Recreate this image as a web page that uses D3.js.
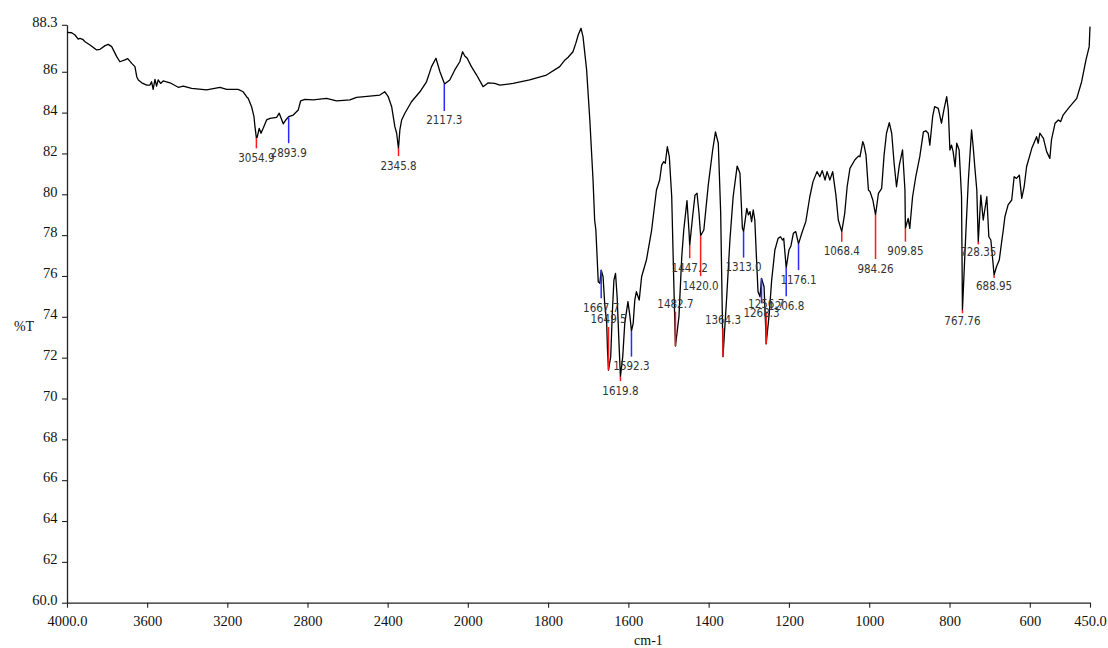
<!DOCTYPE html>
<html><head><meta charset="utf-8">
<script src="https://cdn.jsdelivr.net/npm/d3@7"></script>
<style>body{margin:0;background:#fff;overflow:hidden}</style>
</head><body>
<svg id="chart" width="1108" height="648"></svg>
<script>
// ---- data ----
const specWn = [4000,3977,3960,3944,3935,3922,3910,3885,3852,3835,3810,3794,3777,3752,3736,3711,3697,3677,3661,3652,3644,3627,3602,3586,3578,3570,3561,3553,3545,3533,3520,3486,3445,3420,3378,3303,3237,3203,3146,3121,3104,3096,3079,3067,3062,3055,3051,3041,3032,3021,3004,2987,2954,2941,2921,2908,2894,2871,2846,2834,2813,2771,2705,2655,2588,2555,2489,2439,2414,2397,2380,2364,2355,2346,2339,2330,2314,2281,2239,2206,2181,2159,2139,2116,2090,2065,2040,2026,2015,2003,1991,1978,1962,1949,1933,1920,1887,1846,1804,1771,1758,1750,1738,1731,1725,1718,1713,1704,1696,1688,1684,1681,1675,1671,1667.7,1663,1659,1654,1652,1649.5,1644,1640,1636,1632,1628,1623,1619.8,1614,1609,1601,1596,1592.3,1588,1584,1580,1573,1567,1555,1542,1530,1522,1517,1512,1508,1503,1498,1492,1487,1482.7,1474,1467,1462,1454,1449,1447.2,1440,1434,1429,1424,1420,1412,1401,1390,1383,1376,1370,1364.3,1355,1347,1339,1329,1322,1316,1313,1305,1301,1297,1293,1289,1285,1281,1277,1272,1268.3,1262,1258,1256.7,1249,1243,1235,1227,1221,1216,1213,1206.8,1200,1195,1189,1183,1176.1,1168,1158,1148,1140,1130,1123,1117,1110,1105,1098,1091,1083,1077,1068.4,1061,1055,1048,1036,1027,1023,1016,1013,1008,1002,998,991,984.26,977,969,963,957,950,944,938,932,925,917,911,909.85,903,899,892,884,874,865,859,853,849,842,837,828,820,814,807,803,799,795,791,786,782,776,770,767.76,759,753,745,741,737,732,728.35,722,716,707,702,697,693,688.95,683,676,670,666,662,654,645,639,633,626,620,614,608,595,583,579,575,566,558,550,546,537,529,523,517,504,483,471,460,452,450];
const specT = [87.93,87.91,87.80,87.60,87.64,87.59,87.47,87.31,87.07,87.10,87.28,87.34,87.23,86.74,86.49,86.58,86.64,86.41,86.25,85.76,85.60,85.46,85.35,85.35,85.51,85.14,85.63,85.30,85.60,85.43,85.55,85.46,85.24,85.30,85.19,85.11,85.24,85.14,85.14,85.02,84.78,84.70,84.29,83.80,83.31,82.76,82.79,83.23,82.99,83.23,83.64,83.72,83.77,83.97,83.45,83.64,83.80,83.88,84.13,84.58,84.65,84.62,84.70,84.57,84.62,84.75,84.81,84.86,85.02,84.78,84.29,83.31,82.99,82.25,83.15,83.64,83.97,84.53,85.02,85.51,86.25,86.66,86.00,85.40,85.60,86.09,86.49,86.98,86.77,86.66,86.25,85.84,85.27,85.46,85.43,85.35,85.43,85.60,85.84,86.25,86.58,86.71,86.98,87.39,87.80,88.13,87.72,86.09,83.64,80.70,78.74,78.25,75.72,75.64,76.29,75.96,74.66,73.68,72.37,71.39,72.05,74.17,75.80,76.13,74.98,72.54,71.07,72.05,73.68,74.74,74.01,73.30,73.68,74.82,75.23,74.82,75.96,76.78,78.25,80.21,80.70,81.43,81.60,81.52,82.33,81.84,79.88,75.80,72.57,74.01,76.94,78.25,79.69,78.20,77.50,78.90,79.96,80.05,79.07,77.97,78.25,80.45,82.17,83.06,82.50,79.07,72.05,74.98,77.76,79.88,81.38,81.03,78.35,78.17,79.31,78.99,79.15,78.66,79.23,78.74,76.94,75.23,74.98,75.88,75.47,73.52,72.67,74.17,75.80,77.27,77.84,77.92,77.76,77.84,76.40,77.27,77.47,78.09,78.17,77.57,78.09,78.66,79.88,80.62,81.11,80.86,81.16,80.70,81.11,80.70,81.11,79.96,78.74,78.17,79.07,80.37,81.27,81.68,81.87,81.84,82.58,82.41,81.92,80.21,80.13,79.72,78.99,80.05,80.29,81.92,82.99,83.51,82.99,81.52,80.37,81.43,82.17,80.21,78.33,78.82,78.33,79.88,80.86,81.84,83.06,83.11,82.99,82.41,83.80,84.29,84.21,83.48,84.13,84.78,84.13,82.17,82.41,82.09,81.35,82.50,82.17,79.88,74.33,78.25,80.70,83.15,82.33,81.35,80.21,77.68,79.96,78.74,79.88,77.92,77.76,76.94,76.04,76.45,76.78,77.68,78.25,78.90,79.48,79.72,80.86,80.78,80.94,79.80,80.37,81.35,82.25,82.82,82.50,82.99,82.74,82.09,81.76,82.66,83.48,83.64,83.56,83.88,84.21,84.70,85.50,86.58,87.23,88.21];

const xTickValues = [4000,3600,3200,2800,2400,2000,1800,1600,1400,1200,1000,800,600,450];
const xTickLabels = ["4000.0","3600","3200","2800","2400","2000","1800","1600","1400","1200","1000","800","600","450.0"];
const yTickValues = [60,62,64,66,68,70,72,74,76,78,80,82,84,86,88.3];
const yTickLabels = ["60.0","62","64","66","68","70","72","74","76","78","80","82","84","86","88.3"];
const xTitle = "cm-1";
const yTitle = "%T";

const peakLabels = ["3054.9","2893.9","2345.8","2117.3","1667.7","1649.5","1619.8","1592.3","1482.7","1447.2","1420.0","1364.3","1313.0","1268.3","1256.7","1206.8","1176.1","1068.4","984.26","909.85","767.76","728.35","688.95"];
const peakWn = [3054.9,2893.9,2345.8,2117.3,1667.7,1649.5,1619.8,1592.3,1482.7,1447.2,1420.0,1364.3,1313.0,1268.3,1256.7,1206.8,1176.1,1068.4,984.26,909.85,767.76,728.35,688.95];
const peakT = [82.76,83.77,82.25,85.40,76.29,71.39,71.07,73.30,72.57,77.50,77.97,72.05,78.17,75.88,72.67,76.40,77.57,78.17,78.99,78.33,74.33,77.68,76.04];
const peakEndT = [82.25,82.50,81.87,84.08,74.91,73.50,70.85,72.05,74.25,76.87,75.99,73.44,76.90,74.66,74.25,75.01,76.29,77.68,76.83,77.68,74.25,77.62,75.97];
const peakKind = ["min","shoulder","min","shoulder","shoulder","min","min","shoulder","min","min","min","min","shoulder","shoulder","min","shoulder","shoulder","min","min","min","min","min","min"];

// ---- drawing ----
const svg = d3.select("#chart");
const x = d3.scaleLinear().domain([4000,2000,450]).range([67,467.8,1090]);
const y = d3.scaleLinear().domain([60,88.3]).range([602.7,24.8]);

const serif = "'Liberation Serif','Times New Roman',serif";

// x axis
const xAxis = d3.axisBottom(x).tickValues(xTickValues)
  .tickFormat((d,i)=>xTickLabels[i]).tickSize(5).tickSizeOuter(0).tickPadding(8.5);
const gx = svg.append("g").attr("transform",`translate(0,${y(60)})`).call(xAxis);
// y axis
const yAxis = d3.axisLeft(y).tickValues(yTickValues)
  .tickFormat((d,i)=>yTickLabels[i]).tickSize(5).tickSizeOuter(0).tickPadding(4.5);
const gy = svg.append("g").attr("transform",`translate(${x(4000)},0)`).call(yAxis);

[gx,gy].forEach(g=>{
  g.select(".domain").attr("stroke","#222").attr("stroke-width",1.3);
  g.selectAll(".tick line").attr("stroke","#222").attr("stroke-width",1.1);
  g.selectAll(".tick text").attr("fill","#111").style("font-family",serif).style("font-size","14.5px");
});
gy.selectAll(".tick text").attr("dy","0.12em");

svg.append("text").attr("x",x(1550)).attr("y",645).attr("text-anchor","middle")
  .style("font-family",serif).style("font-size","14px").attr("fill","#111").text(xTitle);
svg.append("text").attr("x",24).attr("y",331).attr("text-anchor","middle")
  .style("font-family",serif).style("font-size","14px").attr("fill","#111").text(yTitle);

// spectrum
const pts = specWn.map((w,i)=>[w,specT[i]]);
svg.append("path").datum(pts)
  .attr("fill","none").attr("stroke","#000").attr("stroke-width",1.3)
  .attr("stroke-linejoin","round")
  .attr("d", d3.line().x(d=>x(d[0])).y(d=>y(d[1])));

// peak markers
const peaks = peakWn.map((w,i)=>({w, t:peakT[i], e:peakEndT[i], label:peakLabels[i], kind:peakKind[i]}));
const gp = svg.append("g");
gp.selectAll("line").data(peaks).join("line")
  .attr("x1",d=>x(d.w)).attr("x2",d=>x(d.w))
  .attr("y1",d=>y(d.t)).attr("y2",d=>y(d.e) + (Math.abs(y(d.e)-y(d.t))<2 ? 1.5 : 0))
  .attr("stroke",d=>d.kind==="min" ? "#ff1a1a" : "#2a2aff").attr("stroke-width",1.5);
gp.selectAll("text").data(peaks).join("text")
  .attr("x",d=>x(d.w))
  .attr("y",d=> d.e < d.t || Math.abs(y(d.e)-y(d.t))<3 ? y(d.e)+13.5 : y(d.e)-4)
  .attr("text-anchor","middle")
  .style("font-family","'DejaVu Sans Condensed','DejaVu Sans',sans-serif")
  .style("font-stretch","condensed")
  .style("font-size","11.5px").attr("fill","#333")
  .text(d=>d.label);
</script>
</body></html>
